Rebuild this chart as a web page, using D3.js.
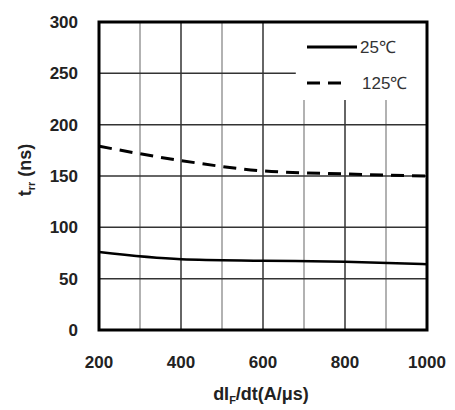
<!DOCTYPE html>
<html>
<head>
<meta charset="utf-8">
<script src="https://cdn.jsdelivr.net/npm/d3@7"></script>
<style>
  body { margin: 0; background: #fff; }
  svg { font-family: Arial, "Liberation Sans", sans-serif; }
</style>
</head>
<body>
<div id="chart"></div>
<script>
// data
const xValues = [200, 400, 600, 800, 1000];
const trr25 = [76, 69, 67.5, 66.5, 64];
const trr125 = [179, 165, 155, 152, 150];
const xTicks = [200, 400, 600, 800, 1000];
const xMinor = [300, 500, 700, 900];
const yTicks = [0, 50, 100, 150, 200, 250, 300];
const seriesNames = ["25\u2103", "125\u2103"];

const width = 455, height = 410;
const margin = { top: 22, right: 28, bottom: 80, left: 99 };
const innerWidth = width - margin.left - margin.right,
  innerHeight = height - margin.top - margin.bottom;

const svg = d3.select("#chart").append("svg")
  .attr("width", width).attr("height", height);

const g = svg.append("g")
  .attr("transform", `translate(${margin.left},${margin.top})`);

const x = d3.scaleLinear().domain([200, 1000]).range([0, innerWidth]);
const y = d3.scaleLinear().domain([0, 300]).range([innerHeight, 0]);

// legend box area (grid hidden behind it)
const legendX = x(680), legendBottom = y(224);

// minor vertical gridlines
g.selectAll(".minor").data(xMinor).join("line")
  .attr("x1", d => x(d)).attr("x2", d => x(d))
  .attr("y1", d => x(d) > legendX ? legendBottom : 0)
  .attr("y2", innerHeight)
  .attr("stroke", "#999").attr("stroke-width", 1.5);

// major vertical gridlines
g.selectAll(".major").data(xTicks.slice(1, -1)).join("line")
  .attr("x1", d => x(d)).attr("x2", d => x(d))
  .attr("y1", d => x(d) > legendX ? legendBottom : 0)
  .attr("y2", innerHeight)
  .attr("stroke", "#333").attr("stroke-width", 1.5);

// horizontal gridlines
g.selectAll(".hgrid").data(yTicks.slice(1, -1)).join("line")
  .attr("x1", 0)
  .attr("x2", d => y(d) < legendBottom ? legendX : innerWidth)
  .attr("y1", d => y(d)).attr("y2", d => y(d))
  .attr("stroke", "#333").attr("stroke-width", 1.5);

// curves
const line = d3.line().x((d, i) => x(xValues[i])).y(d => y(d)).curve(d3.curveMonotoneX);

g.append("path").datum(trr25)
  .attr("d", line).attr("fill", "none")
  .attr("stroke", "#000").attr("stroke-width", 2.5);

g.append("path").datum(trr125)
  .attr("d", line).attr("fill", "none")
  .attr("stroke", "#000").attr("stroke-width", 3)
  .attr("stroke-dasharray", "13,8");

// frame
g.append("rect")
  .attr("width", innerWidth).attr("height", innerHeight)
  .attr("fill", "none").attr("stroke", "#000").attr("stroke-width", 3);

// tick labels
g.selectAll(".ylab").data(yTicks).join("text")
  .attr("x", -21).attr("y", d => y(d)).attr("dy", "0.35em")
  .attr("text-anchor", "end")
  .attr("font-size", 17).attr("font-weight", "bold").attr("fill", "#222")
  .text(d => d);

g.selectAll(".xlab").data(xTicks).join("text")
  .attr("x", d => x(d)).attr("y", innerHeight + 38)
  .attr("text-anchor", "middle")
  .attr("font-size", 17).attr("font-weight", "bold").attr("fill", "#222")
  .text(d => d);

// axis titles
const xt = svg.append("text")
  .attr("x", 261).attr("y", 400)
  .attr("text-anchor", "middle")
  .attr("font-size", 18).attr("font-weight", "bold").attr("fill", "#222");
xt.append("tspan").text("dI");
xt.append("tspan").attr("font-size", 11).attr("dy", 4).text("F");
xt.append("tspan").attr("dy", -4).text("/dt(A/\u03bcs)");

const yt = svg.append("text")
  .attr("transform", "translate(31,170) rotate(-90)")
  .attr("text-anchor", "middle")
  .attr("font-size", 18).attr("font-weight", "bold").attr("fill", "#222");
yt.append("tspan").text("t");
yt.append("tspan").attr("font-size", 11).attr("dy", 4).text("rr");
yt.append("tspan").attr("dy", -4).text(" (ns)");

// legend
const legend = g.append("g");
const legendRows = [
  { name: seriesNames[0], dash: null, y: 25, len: 50, tx: 261 },
  { name: seriesNames[1], dash: "13,8", y: 61, len: 40, tx: 263 },
];
legendRows.forEach(r => {
  legend.append("line")
    .attr("x1", 208).attr("x2", 208 + r.len)
    .attr("y1", r.y).attr("y2", r.y)
    .attr("stroke", "#000").attr("stroke-width", 3)
    .attr("stroke-dasharray", r.dash);
  legend.append("text")
    .attr("x", r.tx).attr("y", r.y).attr("dy", "0.35em")
    .attr("font-size", 17).attr("fill", "#333")
    .text(r.name);
});
</script>
</body>
</html>
